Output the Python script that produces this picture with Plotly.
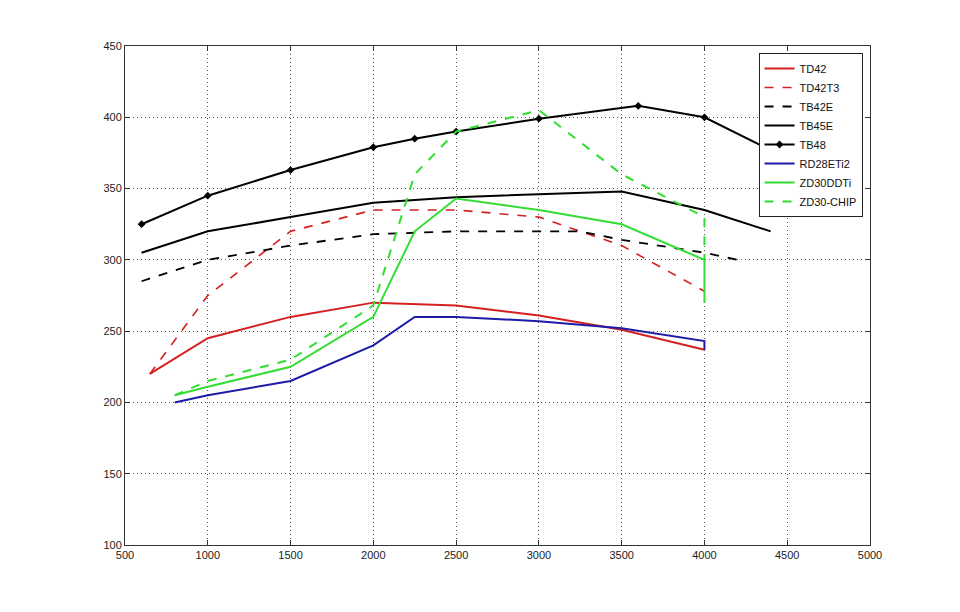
import plotly.graph_objects as go

td42_x = [650, 1000, 1500, 2000, 2500, 3000, 3500, 4000]
td42_y = [220, 245, 260, 270, 268, 261, 251, 237]

td42t3_x = [650, 1000, 1500, 2000, 2500, 3000, 3500, 4000]
td42t3_y = [220, 275, 320, 335, 335, 330, 310, 278]

tb42e_x = [600, 1000, 1500, 2000, 2500, 3000, 3250, 3500, 4000, 4200]
tb42e_y = [285, 300, 310, 318, 320, 320, 320, 314, 305, 300]

tb45e_x = [600, 1000, 1500, 2000, 2500, 3000, 3500, 4000, 4400]
tb45e_y = [305, 320, 330, 340, 344, 346, 348, 335, 320]

tb48_x = [600, 1000, 1500, 2000, 2250, 2500, 3000, 3600, 4000, 4400]
tb48_y = [325, 345, 363, 379, 385, 390, 399, 408, 400, 377]

rd28_x = [800, 1000, 1500, 2000, 2250, 2500, 3000, 3500, 4000, 4000]
rd28_y = [200, 205, 215, 240, 260, 260, 257, 252, 243, 237]

zd30_x = [800, 1000, 1500, 2000, 2250, 2500, 3000, 3500, 4000, 4000]
zd30_y = [205, 211, 225, 260, 320, 343, 335, 325, 300, 270]

zd30chip_x = [800, 1000, 1500, 2000, 2250, 2500, 3000, 3500, 4000, 4000]
zd30chip_y = [205, 215, 230, 268, 360, 390, 405, 360, 330, 300]

RED = "#d42020"
BLUE = "#1c1ca8"
GREEN = "#33dd33"
BLACK = "#000000"

fig = go.Figure()

def add(name, x, y, color, dash="solid", width=2, marker=False):
    fig.add_trace(go.Scatter(
        x=x, y=y, name=name,
        mode="lines+markers" if marker else "lines",
        line=dict(color=color, dash=dash, width=width),
        marker=dict(symbol="diamond", size=6, color=color) if marker else None,
    ))

add("TD42", td42_x, td42_y, RED, width=2)
add("TD42T3", td42t3_x, td42t3_y, RED, dash="dash", width=1.6)
add("TB42E", tb42e_x, tb42e_y, BLACK, dash="dash", width=1.8)
add("TB45E", tb45e_x, tb45e_y, BLACK, width=2)
add("TB48", tb48_x, tb48_y, BLACK, width=2, marker=True)
add("RD28ETi2", rd28_x, rd28_y, BLUE, width=2)
add("ZD30DDTi", zd30_x, zd30_y, GREEN, width=2)
add("ZD30-CHIP", zd30chip_x, zd30chip_y, GREEN, dash="dash", width=2)

axis_common = dict(
    showline=True, linecolor="#333333", linewidth=1, mirror="ticks",
    ticks="inside", ticklen=5, tickcolor="#333333",
    showgrid=True, gridcolor="#555555", gridwidth=1, griddash="1px,3px",
    zeroline=False,
    tickfont=dict(family="Liberation Sans, Arial", size=11, color="#222222"),
)

fig.update_xaxes(range=[500, 5000], dtick=500, tick0=500, **axis_common)
fig.update_yaxes(range=[100, 450], dtick=50, tick0=100, **axis_common)

fig.update_layout(
    width=960, height=612,
    margin=dict(l=125, r=90, t=46, b=67),
    paper_bgcolor="white", plot_bgcolor="white",
    showlegend=True,
    legend=dict(
        x=0.99, y=0.986, xanchor="right", yanchor="top",
        bgcolor="white", bordercolor="#222222", borderwidth=1,
        font=dict(family="Liberation Sans, Arial", size=11, color="#111111"),
        tracegroupgap=0, itemwidth=30,
    ),
)

fig.write_html("out.html")
